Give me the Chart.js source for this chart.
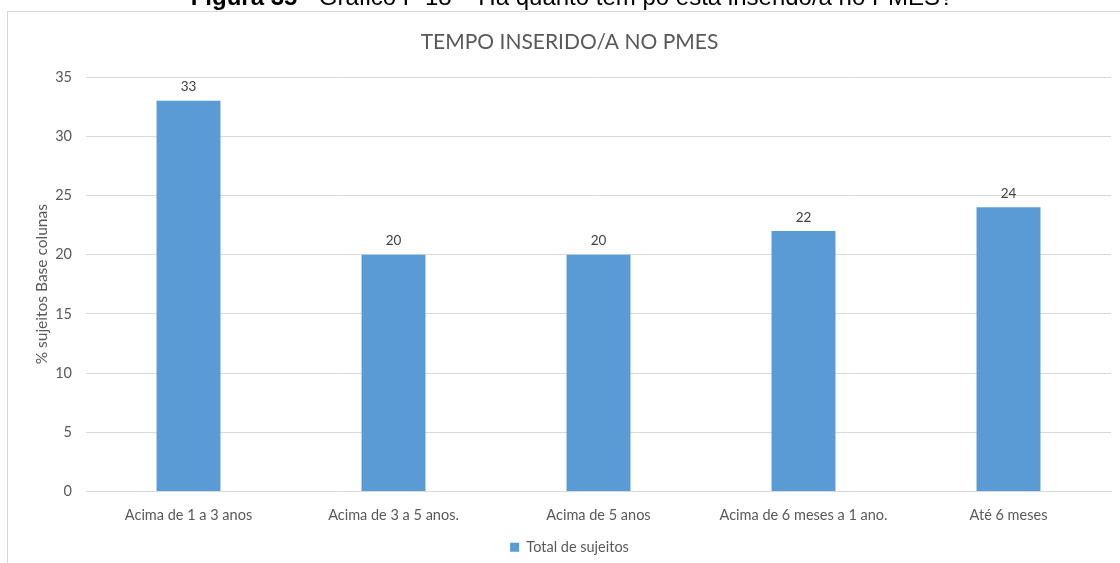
<!DOCTYPE html>
<html>
<head>
<meta charset="utf-8">
<script src="https://cdn.jsdelivr.net/npm/chart.js@4.4.1/dist/chart.umd.min.js"></script>
<style>
  html, body { margin: 0; padding: 0; background: #ffffff; overflow: hidden; }
  #wrap { position: relative; width: 1120px; height: 563px; overflow: hidden; }
  #chart { position: absolute; left: 0; top: 0; }
  #caption {
    position: absolute; left: 0; width: 1144px; top: -17px;
    text-align: center; font-family: "Liberation Sans", Arial, sans-serif;
    font-size: 24px; color: #000; white-space: nowrap;
  }
</style>
</head>
<body>
<div id="wrap">
  <canvas id="chart" width="1120" height="563"></canvas>
  <div id="caption"><b>Figura 35</b> - Gráfico P 18 – Há quanto tem po está inserido/a no PMES?</div>
</div>
<script>
// Categories and values of the survey question
const categories = [
  "Acima de 1 a 3 anos",
  "Acima de 3 a 5 anos.",
  "Acima de 5 anos",
  "Acima de 6 meses a 1 ano.",
  "Até 6 meses"
];
const totalSujeitos = [33, 20, 20, 22, 24];
const seriesName = "Total de sujeitos";
const chartTitle = "TEMPO INSERIDO/A NO PMES";
const yAxisTitle = "% sujeitos Base colunas";
const yMin = 0, yMax = 35, yStep = 5;

const textColor = "#595959";
const gridColor = "#d9d9d9";
const barColor = "#5b9bd5";
const fontFamily = "Lato, 'Open Sans', sans-serif";

// Light grey outline around the chart box
const frame = {
  id: "frame",
  beforeDraw(chart) {
    const ctx = chart.ctx;
    ctx.save();
    ctx.strokeStyle = gridColor;
    ctx.lineWidth = 1;
    ctx.strokeRect(7.5, 11.5, 1130, 570);
    ctx.restore();
  }
};

// Value labels above each bar
const valueLabels = {
  id: "valueLabels",
  afterDatasetsDraw(chart) {
    const ctx = chart.ctx;
    ctx.save();
    ctx.font = "13.5px " + fontFamily;
    ctx.fillStyle = "#404040";
    ctx.textAlign = "center";
    ctx.textBaseline = "bottom";
    chart.data.datasets.forEach((ds, i) => {
      chart.getDatasetMeta(i).data.forEach((bar, j) => {
        ctx.fillText(String(ds.data[j]), bar.x, bar.y - 7);
      });
    });
    ctx.restore();
  }
};

new Chart(document.getElementById("chart"), {
  type: "bar",
  data: {
    labels: categories,
    datasets: [{
      label: seriesName,
      data: totalSujeitos,
      backgroundColor: barColor,
      borderWidth: 0,
      categoryPercentage: 1.0,
      barPercentage: 0.312
    }]
  },
  options: {
    responsive: false,
    animation: false,
    devicePixelRatio: 1,
    layout: { padding: { left: 28, right: 9, top: 12, bottom: -1.5 } },
    plugins: {
      title: {
        display: true,
        text: chartTitle,
        color: textColor,
        font: { family: fontFamily, size: 21, weight: "normal" },
        padding: { top: 17.4, bottom: 22.4 }
      },
      legend: {
        position: "bottom",
        labels: {
          color: textColor,
          font: { family: fontFamily, size: 14.5 },
          boxWidth: 9,
          boxHeight: 9,
          padding: 8.5
        }
      },
      tooltip: { enabled: false }
    },
    scales: {
      x: {
        grid: { display: false, drawTicks: false },
        border: { display: true, color: gridColor },
        ticks: {
          color: textColor,
          font: { family: fontFamily, size: 14.5 },
          padding: 15,
          maxRotation: 0
        },
        afterFit(scale) { scale.height = 40; }
      },
      y: {
        min: yMin,
        max: yMax,
        grid: { color: gridColor, drawTicks: false },
        border: { display: false },
        ticks: {
          stepSize: yStep,
          color: textColor,
          font: { family: fontFamily, size: 14.5 },
          padding: 14
        },
        title: {
          display: true,
          text: yAxisTitle,
          color: textColor,
          font: { family: fontFamily, size: 15.5 },
          padding: { top: 4.7, bottom: 0 }
        },
        afterFit(scale) { scale.width = 58; }
      }
    }
  },
  plugins: [frame, valueLabels]
});
</script>
</body>
</html>
